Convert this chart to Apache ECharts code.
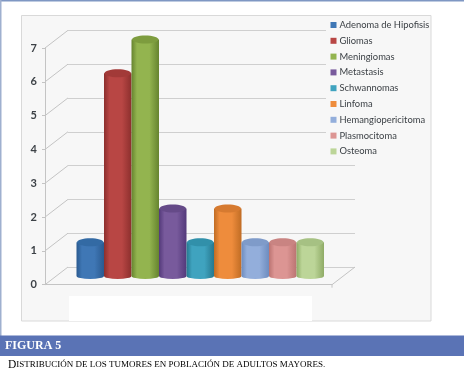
<!DOCTYPE html>
<html><head><meta charset="utf-8">
<style>html,body{margin:0;padding:0;background:#fff}#c{width:464px;height:372px}</style>
<script src="https://cdn.jsdelivr.net/npm/echarts@6/dist/echarts.min.js"></script>
</head><body><div id="c"></div>
<script>
const tumores = ['Adenoma de Hipofisis','Gliomas','Meningiomas','Metastasis','Schwannomas','Linfoma','Hemangiopericitoma','Plasmocitoma','Osteoma'];
const casos = [1,6,7,2,1,2,1,1,1];
const colores = ['#3f77b5','#b84644','#93b44f','#785a9c','#3fa3bf','#ee8c3c','#93aedb','#dc9593','#bcd598'];
const oscuros = ['#2a5a90','#8c2f2d','#66842f','#53397a','#26788f','#c06c24','#6d8cbf','#bb7472','#8fab66'];
const tapas = ['#336aa4','#a23a38','#7d9c3e','#654a88','#3190aa','#d67a30','#7f9bc9','#c98482','#a6c183'];
const ticks = [0,1,2,3,4,5,6,7];

const chart = echarts.init(document.getElementById('c'),null,{renderer:'canvas'});
const dx=23, dy=-17.7;
const axisCol='#c4c4c4';

function cyl(i){
  return function(params,api){
    const top=api.coord([api.value(0),api.value(1)]);
    const base=api.coord([api.value(0),0]);
    const w=api.size([1,0])[0];
    const rx=w/2, ry=4, l=top[0]-rx;
    const grad=new echarts.graphic.LinearGradient(0,0,1,0,[
      {offset:0,color:oscuros[i]},{offset:.2,color:colores[i]},{offset:.65,color:colores[i]},{offset:1,color:oscuros[i]}]);
    return {type:'group',children:[
      {type:'path',shape:{pathData:`M${l} ${top[1]}L${l} ${base[1]}A${rx} 3 0 0 0 ${l+w} ${base[1]}L${l+w} ${top[1]}Z`,layout:'none'},style:{fill:grad}},
      {type:'ellipse',shape:{cx:top[0],cy:top[1],rx:rx-.5,ry:ry},style:{fill:tapas[i]}}
    ]};
  };
}

const barSeries = tumores.map((t,i)=>({
  name:t,type:'custom',xAxisIndex:2,yAxisIndex:2,z:5+i,
  itemStyle:{color:colores[i]},
  encode:{x:0,y:1},
  data:[[t,casos[i]]],
  renderItem:cyl(i)
}));

const oblique = {
  type:'custom',xAxisIndex:0,yAxisIndex:0,z:2,silent:true,
  encode:{y:0},
  data:ticks.map(v=>[v]),
  renderItem:(p,api)=>{
    const a=api.coord([0,api.value(0)]);
    return {type:'line',shape:{x1:a[0],y1:a[1],x2:a[0]+dx,y2:a[1]+dy},style:{stroke:axisCol,lineWidth:1}};
  }
};
const floorRight = {
  type:'custom',xAxisIndex:0,yAxisIndex:0,z:2,silent:true,
  encode:{y:0},
  data:[[0]],
  renderItem:(p,api)=>{
    const a=api.coord([1,0]);
    return {type:'group',children:[
      {type:'line',shape:{x1:a[0],y1:a[1],x2:a[0]+dx,y2:a[1]+dy},style:{stroke:axisCol,lineWidth:1}},
      {type:'line',shape:{x1:a[0],y1:a[1],x2:a[0],y2:a[1]+3},style:{stroke:axisCol,lineWidth:1}}
    ]};
  }
};

chart.setOption({
  animation:false,
  backgroundColor:'#ffffff',
  textStyle:{fontFamily:'Lato'},
  legend:{
    orient:'vertical',left:330.5,top:20,padding:0,itemWidth:6,itemHeight:6,itemGap:5.8,icon:'rect',
    data:tumores,z:20,
    textStyle:{fontFamily:'Lato',fontSize:9.4,color:'#3a3f44',padding:[0,0,0,-2],lineHeight:10,height:10}
  },
  grid:[
    {left:45,right:132,top:48,bottom:87.3},
    {left:68,right:109,top:30.7,bottom:105},
    {left:76.5,right:140,top:39.6,bottom:96}
  ],
  xAxis:[
    {gridIndex:0,type:'value',min:0,max:1,show:true,axisLabel:{show:false},axisTick:{show:false},splitLine:{show:false},axisLine:{show:true,lineStyle:{color:axisCol,width:1}}},
    {gridIndex:1,type:'value',min:0,max:1,show:false},
    {gridIndex:2,type:'category',data:tumores,show:false}
  ],
  yAxis:[
    {gridIndex:0,type:'value',min:0,max:7,interval:1,
      axisLine:{show:true,lineStyle:{color:axisCol,width:1}},
      axisTick:{show:true,length:3,lineStyle:{color:axisCol}},
      axisLabel:{color:'#3d4247',fontSize:11,fontFamily:'Lato',margin:8,fontWeight:'bold'},
      splitLine:{show:false}},
    {gridIndex:1,type:'value',min:0,max:7,interval:1,
      axisLine:{show:false},axisTick:{show:false},axisLabel:{show:false},
      splitLine:{show:true,lineStyle:{color:'#cfcfcf',width:1}}},
    {gridIndex:2,type:'value',min:0,max:7,interval:1,show:false}
  ],
  series:[oblique,floorRight,...barSeries],
  graphic:{elements:[
    {type:'rect',z:-10,shape:{x:0,y:0,width:464,height:1.5},style:{fill:'#7f97c3'}},
    {type:'rect',z:-10,shape:{x:0,y:0,width:1.5,height:336},style:{fill:'#9fb0cf'}},
    {type:'rect',z:-9,shape:{x:21.5,y:15.5,width:409.5,height:305.5},style:{fill:'#f7f7f7',stroke:'#d9d9d9',lineWidth:1}},
    {type:'rect',z:-8,shape:{x:69,y:296,width:243,height:25},style:{fill:'#ffffff'}},
    {type:'rect',z:3,shape:{x:326,y:17,width:104,height:140},style:{fill:'#f7f7f7'}},
    {type:'rect',z:30,shape:{x:0,y:335.5,width:464,height:20.5},style:{fill:'#5a73b5'}},
    {type:'text',z:31,x:5,y:345.5,style:{text:'FIGURA 5',fill:'#ffffff',font:'bold 12px "Liberation Serif"',verticalAlign:'middle'}},
    {type:'text',z:31,x:8,y:365,style:{
      text:'{a|D}{b|ISTRIBUCIÓN DE LOS TUMORES EN POBLACIÓN DE ADULTOS MAYORES.}',
      verticalAlign:'middle',
      rich:{a:{fontSize:11.5,fontFamily:'Liberation Serif',color:'#44577d'},
            b:{fontSize:9,fontFamily:'Liberation Serif',color:'#44577d'}}
    }}
  ]}
});
</script></body></html>
